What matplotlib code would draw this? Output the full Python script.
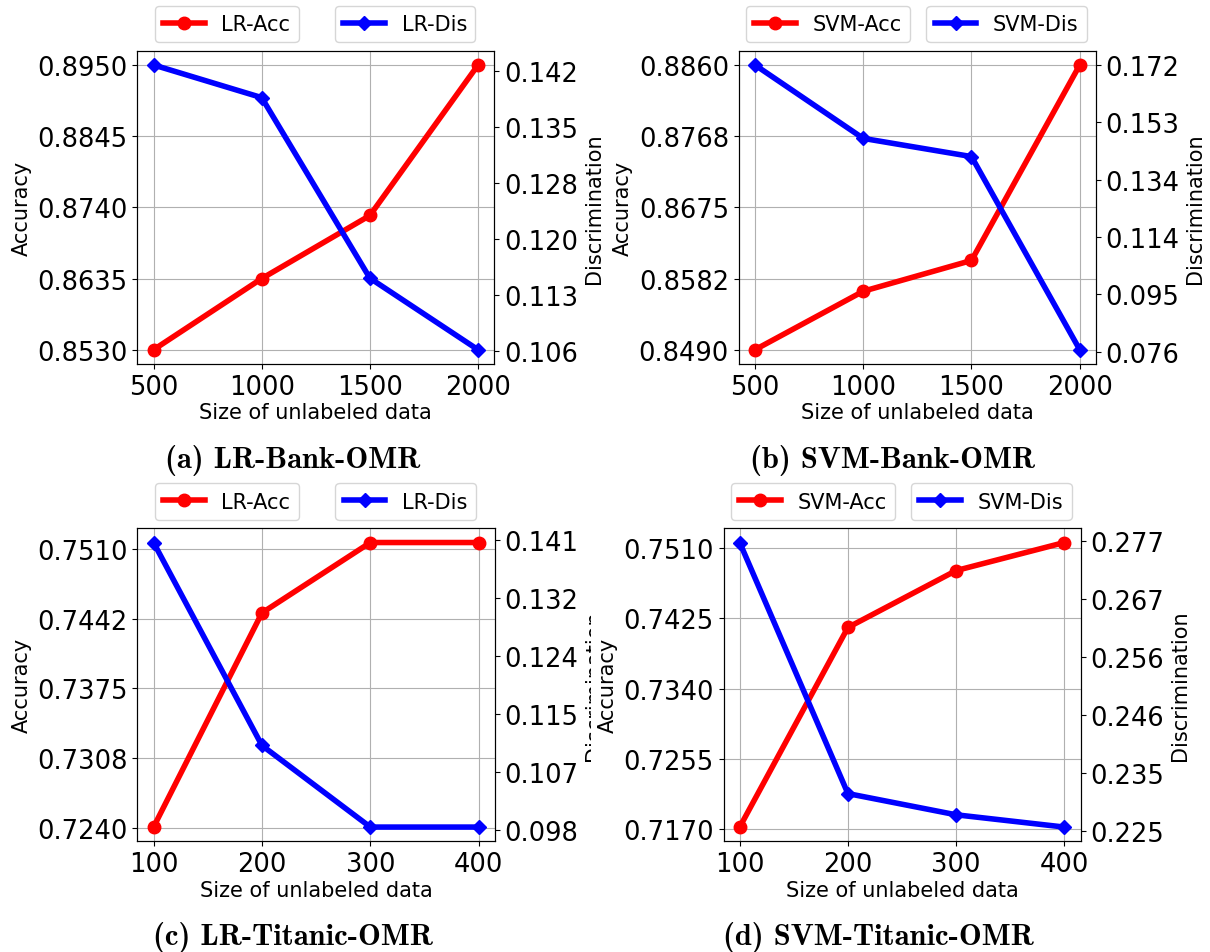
import numpy as np
import matplotlib
matplotlib.use('Agg')
import matplotlib.pyplot as plt
from matplotlib.transforms import Bbox, TransformedBbox

plt.rcParams['font.family'] = ['DejaVu Sans']

# x values
bank_sizes = [500, 1000, 1500, 2000]
titanic_sizes = [100, 200, 300, 400]

# (a) LR-Bank-OMR
lr_bank_acc = [0.8530, 0.8635, 0.8728, 0.8950]
lr_bank_dis = [0.1428, 0.1386, 0.1154, 0.1062]
# (b) SVM-Bank-OMR
svm_bank_acc = [0.8490, 0.8566, 0.8606, 0.8860]
svm_bank_dis = [0.1720, 0.1474, 0.1413, 0.0766]
# (c) LR-Titanic-OMR
lr_titanic_acc = [0.7241, 0.7448, 0.7516, 0.7516]
lr_titanic_dis = [0.1406, 0.1105, 0.0984, 0.0984]
# (d) SVM-Titanic-OMR
svm_titanic_acc = [0.7172, 0.7414, 0.7483, 0.7517]
svm_titanic_dis = [0.2767, 0.2317, 0.2279, 0.2257]

# tick labels
acc_ticks_a = ['0.8530', '0.8635', '0.8740', '0.8845', '0.8950']
dis_ticks_a = ['0.106', '0.113', '0.120', '0.128', '0.135', '0.142']
acc_ticks_b = ['0.8490', '0.8582', '0.8675', '0.8768', '0.8860']
dis_ticks_b = ['0.076', '0.095', '0.114', '0.134', '0.153', '0.172']
acc_ticks_c = ['0.7240', '0.7308', '0.7375', '0.7442', '0.7510']
dis_ticks_c = ['0.098', '0.107', '0.115', '0.124', '0.132', '0.141']
acc_ticks_d = ['0.7170', '0.7255', '0.7340', '0.7425', '0.7510']
dis_ticks_d = ['0.225', '0.235', '0.246', '0.256', '0.267', '0.277']

W, H = 1210, 953
fig = plt.figure(figsize=(W / 100, H / 100), dpi=100)


def px_rect(x0, y0, x1, y1):
    return [x0 / W, 1 - y1 / H, (x1 - x0) / W, (y1 - y0) / H]


def draw_panel(rect, sizes, acc, dis, acc_ticks, dis_ticks, model, caption, cap_xy, clip_x=None):
    ax = fig.add_axes(rect)
    ax2 = ax.twinx()
    l1, = ax.plot(sizes, acc, color='red', marker='o', linewidth=4, markersize=9, label=model + '-Acc')
    l2, = ax2.plot(sizes, dis, color='blue', marker='D', linewidth=4, markersize=7, label=model + '-Dis')

    ax.set_xticks(sizes)
    ax.set_yticks(np.linspace(float(acc_ticks[0]), float(acc_ticks[-1]), len(acc_ticks)))
    ax.set_yticklabels(acc_ticks)
    ax2.set_yticks(np.linspace(float(dis_ticks[0]), float(dis_ticks[-1]), len(dis_ticks)))
    ax2.set_yticklabels(dis_ticks)
    ax.tick_params(labelsize=18.5)
    ax2.tick_params(labelsize=18.5)
    ax.grid(True)

    ax.set_xlabel('Size of unlabeled data', fontsize=15, labelpad=2)
    ax.set_ylabel('Accuracy', fontsize=15)
    ax2.set_ylabel('Discrimination', fontsize=15)

    ax.legend(handles=[l1], loc='lower center', bbox_to_anchor=(0.25, 1.0),
              fontsize=15, borderaxespad=0.4)
    ax2.legend(handles=[l2], loc='lower center', bbox_to_anchor=(0.75, 1.0),
               fontsize=15, borderaxespad=0.4)

    # in the source the right-hand label of (c) is partly covered by (d)
    if clip_x is not None:
        clip = TransformedBbox(Bbox([[0, 0], [clip_x / W, 1]]), fig.transFigure)
        ax2.yaxis.label.set_clip_box(clip)
        ax2.yaxis.label.set_clip_on(True)

    fig.text(cap_xy[0] / W, 1 - cap_xy[1] / H, caption, ha='center', va='center',
             fontsize=22, family=['cmb10', 'DejaVu Serif'])
    return ax, ax2


draw_panel(px_rect(137.3, 51.7, 494.3, 365), bank_sizes, lr_bank_acc, lr_bank_dis,
           acc_ticks_a, dis_ticks_a, 'LR', '(a) LR-Bank-OMR', (292.5, 461))
draw_panel(px_rect(738.7, 51.7, 1096, 365), bank_sizes, svm_bank_acc, svm_bank_dis,
           acc_ticks_b, dis_ticks_b, 'SVM', '(b) SVM-Bank-OMR', (893, 461))
draw_panel(px_rect(137.3, 529.3, 495, 842.3), titanic_sizes, lr_titanic_acc, lr_titanic_dis,
           acc_ticks_c, dis_ticks_c, 'LR', '(c) LR-Titanic-OMR', (293, 938), clip_x=591)
draw_panel(px_rect(723.5, 529.3, 1080.5, 842.3), titanic_sizes, svm_titanic_acc, svm_titanic_dis,
           acc_ticks_d, dis_ticks_d, 'SVM', '(d) SVM-Titanic-OMR', (878, 938))

fig.savefig('out.png', dpi=100)
